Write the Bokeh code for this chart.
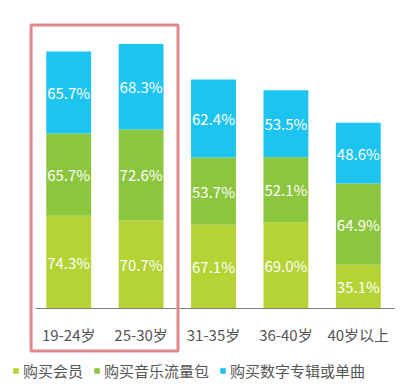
from bokeh.plotting import figure
from bokeh.models import ColumnDataSource, Range1d, Legend, LegendItem, BoxAnnotation
from bokeh.core.properties import value
from bokeh.embed import file_html
from bokeh.resources import INLINE

categories = ["19-24岁", "25-30岁", "31-35岁", "36-40岁", "40岁以上"]
series_names = ["购买会员", "购买音乐流量包", "购买数字专辑或单曲"]
member = [74.3, 70.7, 67.1, 69.0, 35.1]
traffic = [65.7, 72.6, 53.7, 52.1, 64.9]
album = [65.7, 68.3, 62.4, 53.5, 48.6]
colors = ["#b5d334", "#8cc63e", "#1ec4f0"]

FONT = "Noto Sans CJK SC"
n = len(categories)

xs = list(range(n))
src = ColumnDataSource({"x": xs, "member": member, "traffic": traffic, "album": album})

p = figure(width=418, height=390, output_backend="svg", toolbar_location=None,
           x_range=Range1d(-0.942, n - 0.1685), y_range=Range1d(-65.6, 246.4),
           min_border_left=0, min_border_right=0, min_border_top=0, min_border_bottom=0)
p.background_fill_color = "white"
p.border_fill_color = "white"
p.outline_line_color = None
p.grid.visible = False
p.xaxis.visible = False
p.yaxis.visible = False

renderers = p.vbar_stack(["member", "traffic", "album"], x="x", width=0.62, color=colors,
                         source=src, line_color=None)

# segment labels
lab_x, lab_y, lab_t = [], [], []
for i in xs:
    base = 0.0
    for vals in (member, traffic, album):
        v = vals[i]
        lab_x.append(i)
        lab_y.append(base + v / 2)
        lab_t.append(f"{v:.1f}%")
        base += v
p.text(x=lab_x, y=lab_y, text=lab_t, text_color="white", text_font=value(FONT),
       text_font_size="15px", text_align="center", text_baseline="middle")

# category axis: baseline and labels
p.segment(x0=[-0.46], y0=[0], x1=[n - 0.5], y1=[0], line_color="#808080", line_width=1.2)
p.text(x=xs, y=[0] * n, text=categories, text_color="#555555", text_font=value(FONT),
       text_font_size="15px", text_align="center", text_baseline="middle", y_offset=26)

# highlight box around the first two age groups
box = BoxAnnotation(left=-0.52, right=1.51, bottom=-34, top=226.8, fill_alpha=0,
                    line_color="#e0868c", line_alpha=1, line_width=3)
p.add_layout(box)

legend = Legend(items=[LegendItem(label=s, renderers=[r]) for s, r in zip(series_names, renderers)],
                orientation="horizontal", location=(12, 9))
legend.glyph_width = 7
legend.glyph_height = 7
legend.label_text_font = FONT
legend.label_text_font_size = "15px"
legend.label_text_color = "#555555"
legend.label_standoff = 4
legend.spacing = 10
legend.padding = 0
legend.margin = 0
legend.border_line_color = None
legend.background_fill_alpha = 0
p.add_layout(legend)

open("out.html", "w").write(file_html(p, INLINE))
